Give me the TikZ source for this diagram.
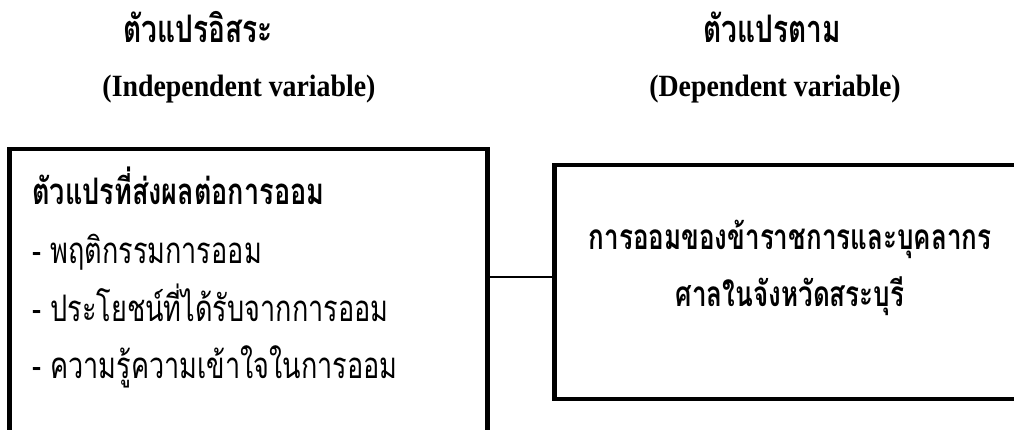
\documentclass[tikz,border=0pt]{standalone}
\usepackage{fontspec}
\setmainfont{Liberation Serif}
\newfontfamily\thaifont[Script=Thai, FakeStretch=0.74]{Loma}
\newfontfamily\latinfont[FakeStretch=0.9]{Liberation Serif}
\usetikzlibrary{positioning}

\begin{document}
\begin{tikzpicture}[x=0.025cm, y=-0.025cm,
  box/.style={draw, line width=3.5pt, rectangle, inner sep=0pt},
  link/.style={line width=1.8pt},
  head/.style={font=\thaifont\bfseries\fontsize{25}{40}\selectfont},
  title/.style={font=\thaifont\bfseries\fontsize{27}{30}\selectfont},
  eng/.style={font=\latinfont\bfseries\fontsize{22}{26}\selectfont},
  item/.style={font=\thaifont\fontsize{26}{28}\selectfont, anchor=base west, inner sep=0pt}]
\useasboundingbox (0,0) rectangle (1014,429);
\clip (0,0) rectangle (1014,429);
% Titles
\node[title] (indeptitle) at (198,27) {ตัวแปรอิสระ};
\node[eng] (indepeng) at (239,89) {(Independent variable)};
\node[title] (deptitle) at (772,27) {ตัวแปรตาม};
\node[eng] (depeng) at (775,89) {(Dependent variable)};
% Boxes
\node[box, minimum width=11.925cm, minimum height=8.025cm] (indep) at (248.5,309.5) {};
\node[box, minimum width=11.725cm, minimum height=5.85cm] (dep) at (789.5,282) {};
% Independent variables
\node[item, font=\thaifont\bfseries\fontsize{26}{28}\selectfont] (factors) at (32,204) {ตัวแปรที่ส่งผลต่อการออม};
\node[item] (behav) at (32,263) {- พฤติกรรมการออม};
\node[item] (benefit) at (32,321) {- ประโยชน์ที่ได้รับจากการออม};
\node[item] (know) at (32,378) {- ความรู้ความเข้าใจในการออม};
% Dependent variable
\node[head, align=center] (saving) at (790,268) {การออมของข้าราชการและบุคลากร\\ศาลในจังหวัดสระบุรี};
% Connector
\coordinate (joint) at ([yshift=0.125cm]dep.west);
\draw[link] (joint) -- (joint -| indep.east);
\end{tikzpicture}
\end{document}
